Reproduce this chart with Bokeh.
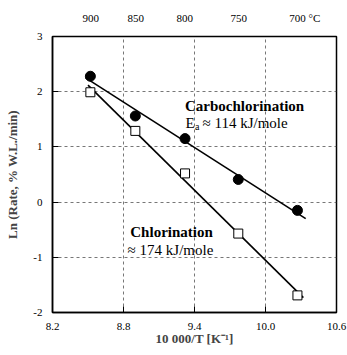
import numpy as np
from bokeh.plotting import figure
from bokeh.models import (LinearAxis, FixedTicker, NumeralTickFormatter, Label,
                          Range1d, CustomJSTickFormatter)
from bokeh.embed import file_html
from bokeh.resources import INLINE

# Reciprocal temperature 10 000/T [1/K] of the five runs (900 ... 700 °C)
inv_t = [8.52, 8.90, 9.32, 9.77, 10.27]
# ln of the weight-loss rate for each treatment
carbo_ln_rate = [2.28, 1.56, 1.15, 0.41, -0.15]
chlor_ln_rate = [1.99, 1.29, 0.52, -0.57, -1.69]

# x-span over which each Arrhenius fit is drawn
carbo_fit_span = [8.48, 10.34]
chlor_fit_span = [8.50, 10.32]

x_ticks = [8.2, 8.8, 9.4, 10.0, 10.6]
y_ticks = [-2, -1, 0, 1, 2, 3]
temp_c_ticks = [900, 850, 800, 750, 700]

FONT = "Liberation Serif"

p = figure(width=347, height=355, x_range=Range1d(8.2, 10.6), y_range=Range1d(-2, 3),
           output_backend="svg", toolbar_location=None,
           min_border_left=52, min_border_right=11, min_border_top=36, min_border_bottom=43)
p.background_fill_color = "white"
p.border_fill_color = "white"
p.outline_line_color = "black"
p.outline_line_width = 1.5

# bottom axis: reciprocal temperature
xa = p.xaxis[0]
xa.ticker = FixedTicker(ticks=x_ticks)
xa.formatter = NumeralTickFormatter(format="0.0")
xa.axis_label = "10 000/T [K\u207b\u00b9]"
xa.axis_label_text_font = FONT
xa.axis_label_text_font_style = "bold"
xa.axis_label_text_font_size = "13px"
xa.axis_label_standoff = -2
xa.major_label_standoff = 10

# left axis: ln rate
ya = p.yaxis[0]
ya.ticker = FixedTicker(ticks=y_ticks)
ya.major_label_overrides = {t: str(t) for t in y_ticks}
ya.axis_label = "Ln (Rate, % W.L./min)"
ya.axis_label_text_font = FONT
ya.axis_label_text_font_style = "bold"
ya.axis_label_text_font_size = "13px"
ya.axis_label_standoff = 10
ya.major_label_standoff = 10

for ax in (xa, ya):
    ax.major_label_text_font = FONT
    ax.major_label_text_font_size = "11px"
    ax.major_label_text_color = "black"
    ax.axis_line_color = "black"
    ax.axis_line_width = 1.5
    ax.major_tick_in = 6
    ax.major_tick_out = 0
    ax.major_tick_line_color = "black"
    ax.minor_tick_line_color = None

# top axis: the same scale labelled in degrees Celsius; the last label carries
# the unit, padded on the left so that its number stays over the tick
temp_pos = [1e4 / (t + 273.15) for t in temp_c_ticks]
celsius_fmt = CustomJSTickFormatter(code="""
    const t = Math.round(1e4 / tick - 273.15);
    return t === 700 ? "\\u2007\\u2007\\u2009" + t + " \\u00b0C" : String(t);
""")
top = LinearAxis(ticker=FixedTicker(ticks=temp_pos), formatter=celsius_fmt,
                 major_tick_in=0, major_tick_out=0, minor_tick_line_color=None,
                 axis_line_color=None, major_label_standoff=13,
                 major_label_text_font=FONT, major_label_text_font_size="11px",
                 major_label_text_color="black")
p.add_layout(top, "above")

# dashed grid
for g in (p.xgrid[0], p.ygrid[0]):
    g.grid_line_color = "#555555"
    g.grid_line_dash = "3 3"
    g.grid_line_width = 1
    g.grid_line_alpha = 0.8

# Arrhenius fits
for ys, span in ((carbo_ln_rate, carbo_fit_span), (chlor_ln_rate, chlor_fit_span)):
    k, b = np.polyfit(inv_t, ys, 1)
    xs = np.array(span)
    p.line(xs, k * xs + b, line_color="black", line_width=1.6)

p.scatter(inv_t, carbo_ln_rate, marker="circle", size=10, fill_color="black", line_color="black")
p.scatter(inv_t, chlor_ln_rate, marker="square", size=9, fill_color="white", line_color="black",
          line_width=1)

# annotations
def note(x, y, text, size="15px", style="normal", align="center", dx=0, dy=0):
    p.add_layout(Label(x=x, y=y, x_offset=dx, y_offset=dy, text=text, text_align=align,
                       text_baseline="middle", text_font=FONT, text_font_size=size,
                       text_font_style=style, text_color="black"))

note(9.823, 1.732, "Carbochlorination", style="bold")
note(9.324, 1.442, "E", align="left")
note(9.324, 1.442, "a", size="10px", align="left", dx=9.5, dy=-4)
note(9.324, 1.442, "\u2248 114 kJ/mole", align="left", dx=17)
note(9.206, -0.533, "Chlorination", style="bold")
note(9.197, -0.859, "\u2248 174 kJ/mole")

open("out.html", "w").write(file_html(p, INLINE))
